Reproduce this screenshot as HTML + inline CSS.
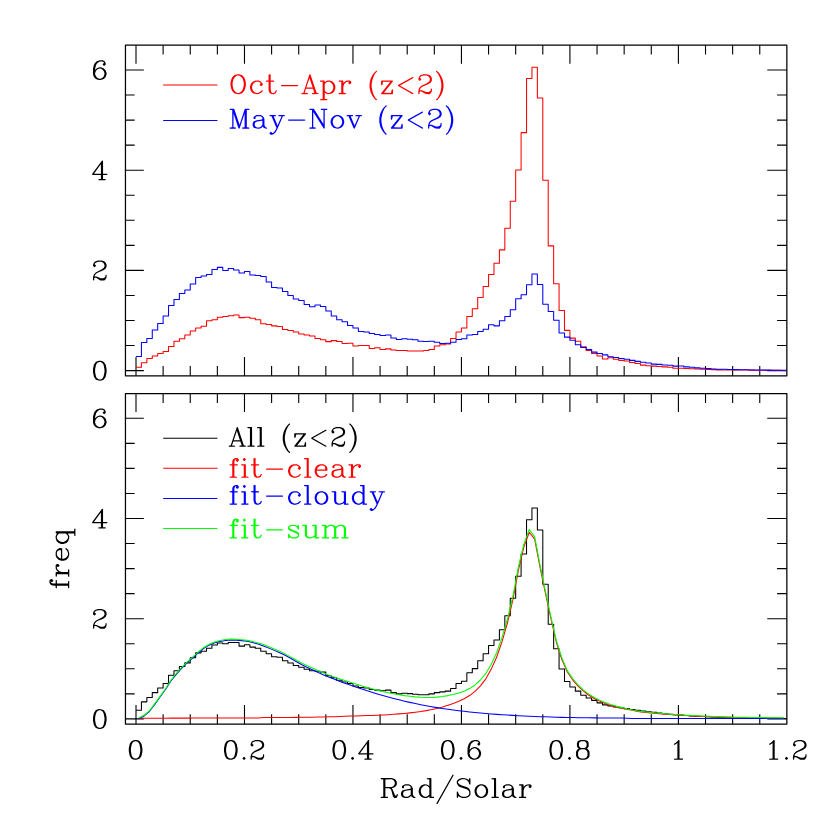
<!DOCTYPE html>
<html><head><meta charset="utf-8"><title>plot</title>
<style>
html,body{margin:0;padding:0;background:#fff}
svg{display:block}
.k{fill:none;stroke:#000;stroke-width:1.25;stroke-linejoin:round}
.t{fill:none;stroke:#000;stroke-width:1.1}
.d{fill:none;stroke-width:1.05;stroke-linejoin:round}
</style></head><body>
<svg width="830" height="830" viewBox="0 0 830 830">
<rect width="830" height="830" fill="#fff"/>
<path d="M136 375.8v-18.9M136 45.2v18.6M163.12 375.8v-9.7M163.12 45.2v9.4M190.24 375.8v-9.7M190.24 45.2v9.4M217.36 375.8v-9.7M217.36 45.2v9.4M244.48 375.8v-18.9M244.48 45.2v18.6M271.6 375.8v-9.7M271.6 45.2v9.4M298.72 375.8v-9.7M298.72 45.2v9.4M325.84 375.8v-9.7M325.84 45.2v9.4M352.96 375.8v-18.9M352.96 45.2v18.6M380.08 375.8v-9.7M380.08 45.2v9.4M407.2 375.8v-9.7M407.2 45.2v9.4M434.32 375.8v-9.7M434.32 45.2v9.4M461.44 375.8v-18.9M461.44 45.2v18.6M488.56 375.8v-9.7M488.56 45.2v9.4M515.68 375.8v-9.7M515.68 45.2v9.4M542.8 375.8v-9.7M542.8 45.2v9.4M569.92 375.8v-18.9M569.92 45.2v18.6M597.04 375.8v-9.7M597.04 45.2v9.4M624.16 375.8v-9.7M624.16 45.2v9.4M651.28 375.8v-9.7M651.28 45.2v9.4M678.4 375.8v-18.9M678.4 45.2v18.6M705.52 375.8v-9.7M705.52 45.2v9.4M732.64 375.8v-9.7M732.64 45.2v9.4M759.76 375.8v-9.7M759.76 45.2v9.4M125.45 370.6h18.4M786.85 370.6h-19.6M125.45 345.55h9.2M786.85 345.55h-9.8M125.45 320.5h9.2M786.85 320.5h-9.8M125.45 295.45h9.2M786.85 295.45h-9.8M125.45 270.4h18.4M786.85 270.4h-19.6M125.45 245.35h9.2M786.85 245.35h-9.8M125.45 220.3h9.2M786.85 220.3h-9.8M125.45 195.25h9.2M786.85 195.25h-9.8M125.45 170.2h18.4M786.85 170.2h-19.6M125.45 145.15h9.2M786.85 145.15h-9.8M125.45 120.1h9.2M786.85 120.1h-9.8M125.45 95.05h9.2M786.85 95.05h-9.8M125.45 70h18.4M786.85 70h-19.6" class="t"/>
<rect x="125.45" y="45.2" width="661.4" height="330.6" class="k"/>
<path d="M136 724v-18.9M136 393.5v18.6M163.12 724v-9.7M163.12 393.5v9.4M190.24 724v-9.7M190.24 393.5v9.4M217.36 724v-9.7M217.36 393.5v9.4M244.48 724v-18.9M244.48 393.5v18.6M271.6 724v-9.7M271.6 393.5v9.4M298.72 724v-9.7M298.72 393.5v9.4M325.84 724v-9.7M325.84 393.5v9.4M352.96 724v-18.9M352.96 393.5v18.6M380.08 724v-9.7M380.08 393.5v9.4M407.2 724v-9.7M407.2 393.5v9.4M434.32 724v-9.7M434.32 393.5v9.4M461.44 724v-18.9M461.44 393.5v18.6M488.56 724v-9.7M488.56 393.5v9.4M515.68 724v-9.7M515.68 393.5v9.4M542.8 724v-9.7M542.8 393.5v9.4M569.92 724v-18.9M569.92 393.5v18.6M597.04 724v-9.7M597.04 393.5v9.4M624.16 724v-9.7M624.16 393.5v9.4M651.28 724v-9.7M651.28 393.5v9.4M678.4 724v-18.9M678.4 393.5v18.6M705.52 724v-9.7M705.52 393.5v9.4M732.64 724v-9.7M732.64 393.5v9.4M759.76 724v-9.7M759.76 393.5v9.4M125.45 718.9h18.4M786.85 718.9h-19.6M125.45 693.85h9.2M786.85 693.85h-9.8M125.45 668.8h9.2M786.85 668.8h-9.8M125.45 643.75h9.2M786.85 643.75h-9.8M125.45 618.7h18.4M786.85 618.7h-19.6M125.45 593.65h9.2M786.85 593.65h-9.8M125.45 568.6h9.2M786.85 568.6h-9.8M125.45 543.55h9.2M786.85 543.55h-9.8M125.45 518.5h18.4M786.85 518.5h-19.6M125.45 493.45h9.2M786.85 493.45h-9.8M125.45 468.4h9.2M786.85 468.4h-9.8M125.45 443.35h9.2M786.85 443.35h-9.8M125.45 418.3h18.4M786.85 418.3h-19.6" class="t"/>
<rect x="125.45" y="393.5" width="661.4" height="330.5" class="k"/>
<path d="M136 367.29H141.42V362.78H146.85V358.58H152.27V356.07H157.7V353.57H163.12V351.56H168.54V346.55H173.97V341.24H179.39V338.79H184.82V335.03H190.24V331.02H195.66V328.02H201.09V326.26H206.51V320.7H211.94V319.7H217.36V317.19H222.78V316.49H228.21V315.79H233.63V314.99H239.06V317.64H244.48V317.19H249.9V318.25H255.33V319.7H260.75V323.81H266.18V324.51H271.6V325.86H277.02V326.51H282.45V329.52H287.87V330.52H293.3V332.02H298.72V334.03H304.14V335.03H309.57V336.03H314.99V338.54H320.42V339.79H325.84V341.64H331.26V340.64H336.69V341.54H342.11V343.55H347.54V343.3H352.96V346.05H358.38V345.55H363.81V345.55H369.23V348.56H374.66V347.8H380.08V349.56H385.5V348.86H390.93V350.06H396.35V350.56H401.78V350.56H407.2V351.06H412.62V351.06H418.05V350.91H423.47V350.56H428.9V349.56H434.32V346.05H439.74V344.75H445.17V344.05H450.59V338.54H456.02V332.02H461.44V328.02H466.86V316.59H472.29V308.78H477.71V297.45H483.14V286.43H488.56V274.51H493.98V263.24H499.41V249.86H504.83V228.32H510.26V201.26H515.68V169.95H521.1V132.63H526.53V78.52H531.95V67.24H537.38V98.06H542.8V180.22H548.22V245.85H553.65V283.73H559.07V310.48H564.5V330.37H569.92V338.14H575.34V341.24H580.77V346.8H586.19V350.56H591.62V353.57H597.04V356.07H602.46V358.93H607.89V357.77H613.31V359.33H618.74V360.38H624.16V361.08H629.58V362.53H635.01V363.54H640.43V365.14H645.86V365.72H651.28V366.14H656.7V366.44H662.13V366.89H667.55V367.29H672.98V368.17H678.4V368.32H683.82V368.45H689.25V368.75H694.67V369.05H700.1V369.2H705.52V369.4H710.94V369.6H716.37V369.85H721.79V369.9H727.22V369.95H732.64V370H738.06V370.05H743.49V370.09H748.91V370.13H754.34V370.17H759.76V370.2H765.18V370.26H770.61V370.32H776.03V370.36H781.46V370.4H786.88" class="d" stroke="#f00"/>
<path d="M136 356.57H141.42V342.54H146.85V338.54H152.27V330.02H157.7V323.51H163.12V315.99H168.54V305.47H173.97V299.46H179.39V293.45H184.82V289.94H190.24V283.93H195.66V277.41H201.09V275.91H206.51V274.41H211.94V269.4H217.36V267.39H222.78V270.4H228.21V268.4H233.63V269.9H239.06V272.91H244.48V271.4H249.9V274.91H255.33V275.41H260.75V276.41H266.18V281.92H271.6V287.43H277.02V287.94H282.45V291.44H287.87V295.45H293.3V298.96H298.72V300.46H304.14V304.47H309.57V306.72H314.99V304.97H320.42V306.47H325.84V310.98H331.26V315.99H336.69V319.7H342.11V321.75H347.54V325.51H352.96V328.02H358.38V331.52H363.81V332.02H369.23V333.53H374.66V334.53H380.08V335.53H385.5V335.03H390.93V338.04H396.35V339.54H401.78V338.79H407.2V339.19H412.62V339.79H418.05V341.24H423.47V341.54H428.9V341.24H434.32V342.24H439.74V343.55H445.17V343.3H450.59V342.24H456.02V339.54H461.44V338.79H466.86V335.03H472.29V334.53H477.71V331.52H483.14V329.32H488.56V324.81H493.98V325.86H499.41V320.7H504.83V316.59H510.26V309.83H515.68V298.76H521.1V294.65H526.53V284.78H531.95V273.91H537.38V284.43H542.8V304.27H548.22V311.48H553.65V320.3H559.07V333.03H564.5V337.13H569.92V340.19H575.34V344.75H580.77V347.4H586.19V349.46H591.62V352.11H597.04V353.42H602.46V354.87H607.89V356.77H613.31V357.47H618.74V358.48H624.16V359.33H629.58V360.38H635.01V361.38H640.43V362.23H645.86V362.98H651.28V364.14H656.7V364.39H662.13V364.99H667.55V365.29H672.98V366.14H678.4V365.94H683.82V366.89H689.25V367.29H694.67V367.89H700.1V368.2H705.52V368.6H710.94V368.9H716.37V369.15H721.79V369.32H727.22V369.47H732.64V369.6H738.06V369.71H743.49V369.81H748.91V369.9H754.34V369.98H759.76V370.05H765.18V370.13H770.61V370.19H776.03V370.25H781.46V370.3H786.88" class="d" stroke="#00f"/>
<path d="M136 710.18H141.42V701.87H146.85V697.51H152.27V692.6H157.7V688.09H163.12V683.58H168.54V675.31H173.97V670.65H179.39V666.55H184.82V662.89H190.24V657.78H195.66V652.87H201.09V651.26H206.51V648.26H211.94V645.05H217.36V643H222.78V643.75H228.21V642.4H233.63V642.4H239.06V646.1H244.48V644.65H249.9V647.11H255.33V648.26H260.75V651.26H266.18V653.77H271.6V656.78H277.02V657.28H282.45V660.78H287.87V663.09H293.3V665.54H298.72V667.3H304.14V669.3H309.57V670.8H314.99V671.3H320.42V672.11H325.84V675.81H331.26V677.82H336.69V680.32H342.11V681.93H347.54V683.58H352.96V686.03H358.38V687.44H363.81V688.09H369.23V689.49H374.66V690.14H380.08V690.74H385.5V690.14H390.93V692.6H396.35V693.85H401.78V693.2H407.2V693.6H412.62V694.2H418.05V694.65H423.47V694.65H428.9V693.85H434.32V692.6H439.74V691.85H445.17V691.14H450.59V688.49H456.02V683.58H461.44V681.32H466.86V672.71H472.29V668.6H477.71V660.78H483.14V653.77H488.56V645.45H493.98V639.94H499.41V629.72H504.83V615.69H510.26V598.16H515.68V576.32H521.1V554.07H526.53V519.65H531.95V508.08H537.38V530.02H542.8V584.28H548.22V624.21H553.65V648.76H559.07V669.05H564.5V681.53H569.92V687.04H575.34V691.14H580.77V695.25H586.19V697.91H591.62V700.36H597.04V702.87H602.46V704.87H607.89V705.87H613.31V706.88H618.74V707.79H624.16V708.63H629.58V709.52H635.01V710.34H640.43V711.09H645.86V711.77H651.28V712.39H656.7V713.07H662.13V713.67H667.55V714.22H672.98V714.71H678.4V715.14H683.82V715.55H689.25V715.92H694.67V716.25H700.1V716.54H705.52V716.8H710.94V717.02H716.37V717.22H721.79V717.4H727.22V717.56H732.64V717.7H738.06V717.82H743.49V717.93H748.91V718.03H754.34V718.12H759.76V718.2H765.18V718.27H770.61V718.34H776.03V718.4H781.46V718.45H786.88" class="d" stroke="#000"/>
<path d="M138.71 718.2L144.14 718.19L149.56 718.18L154.98 718.17L160.41 718.16L165.83 718.15L171.26 718.14L176.68 718.13L182.1 718.12L187.53 718.1L192.95 718.09L198.38 718.08L203.8 718.07L209.22 718.05L214.65 718.04L220.07 718.02L225.5 718.01L230.92 717.99L236.34 717.97L241.77 717.96L247.19 717.94L252.62 717.93L258.04 717.9L263.46 717.6L268.89 717.56L274.31 717.54L279.74 717.52L285.16 717.5L290.58 717.45L296.01 717.38L301.43 717.31L306.86 717.24L312.28 717.15L317.7 717.06L323.13 716.95L328.55 716.83L333.98 716.67L339.4 716.49L344.82 716.29L350.25 716.09L355.67 715.91L361.1 715.74L366.52 715.58L371.94 715.41L377.37 715.21L382.79 714.96L388.22 714.66L393.64 714.3L399.06 713.88L404.49 713.4L409.91 712.86L415.34 712.22L420.76 711.48L426.18 710.61L431.61 709.59L437.03 708.41L442.46 706.95L447.88 705.27L453.3 703.41L458.73 701.26L464.15 698.76L469.58 695.55L475 691.35L480.42 685.88L485.85 678.82L491.27 669.1L496.7 657.03L502.12 641.35L507.54 622.51L512.97 599.41L518.39 570.1L523.82 547.06L529.24 532.23L534.66 539.14L540.09 567.6L545.51 593.65L550.94 618.7L556.36 642.25L561.78 659.28L567.21 671.81L572.63 679.82L578.06 686.18L583.48 691.19L588.9 695.25L594.33 698.46L599.75 701.11L605.18 703.47L610.6 705.42L616.02 707.03L621.45 708.23L626.87 709.33L632.3 710.33L637.72 711.44L643.14 712.19L648.57 712.7L653.99 713.18L659.42 713.66L664.84 714.11L670.26 714.53L675.69 714.91L681.11 715.27L686.54 715.6L691.96 715.9L697.38 716.18L702.81 716.43L708.23 716.66L713.66 716.87L719.08 717.06L724.5 717.24L729.93 717.38L735.35 717.51L740.78 717.61L746.2 717.7L751.62 717.78L757.05 717.86L762.47 717.93L767.9 718L773.32 718.06L778.74 718.12L784.17 718.17" class="d" stroke="#f00"/>
<path d="M138.71 718.75L144.14 715.94L149.56 711.28L154.98 704.12L160.41 696.56L165.83 688.94L171.26 680.52L176.68 673.81L182.1 667.8L187.53 662.39L192.95 657.78L198.38 652.72L203.8 648.26L209.22 645.15L214.65 642.77L220.07 641.41L225.5 640.41L230.92 639.95L236.34 640.13L241.77 640.64L247.19 641.34L252.62 642.55L258.04 644.05L263.46 645.91L268.89 648.13L274.31 650.38L279.74 652.71L285.16 655.27L290.58 658.32L296.01 661.57L301.43 664.52L306.86 667.25L312.28 669.84L317.7 672.3L323.13 674.66L328.55 676.94L333.98 679.1L339.4 681.16L344.82 683.15L350.25 685.09L355.67 686.97L361.1 688.8L366.52 690.57L371.94 692.27L377.37 693.91L382.79 695.48L388.22 696.99L393.64 698.44L399.06 699.83L404.49 701.14L409.91 702.38L415.34 703.56L420.76 704.68L426.18 705.74L431.61 706.71L437.03 707.62L442.46 708.46L447.88 709.24L453.3 709.97L458.73 710.66L464.15 711.3L469.58 711.92L475 712.49L480.42 713.03L485.85 713.51L491.27 713.96L496.7 714.36L502.12 714.73L507.54 715.08L512.97 715.39L518.39 715.69L523.82 715.96L529.24 716.2L534.66 716.43L540.09 716.65L545.51 716.84L550.94 717.04L556.36 717.21L561.78 717.37L567.21 717.49L572.63 717.6L578.06 717.68L583.48 717.76L588.9 717.82L594.33 717.87L599.75 717.92L605.18 717.94L610.6 717.96L616.02 718L621.45 718.05L626.87 718.3L632.3 718.5L637.72 718.51L643.14 718.52L648.57 718.53L653.99 718.54L659.42 718.54L664.84 718.55L670.26 718.55L675.69 718.55L681.11 718.55L686.54 718.55L691.96 718.55L697.38 718.55L702.81 718.55L708.23 718.55L713.66 718.55L719.08 718.55L724.5 718.55L729.93 718.55L735.35 718.55L740.78 718.55L746.2 718.55L751.62 718.55L757.05 718.55L762.47 718.55L767.9 718.55L773.32 718.55L778.74 718.55L784.17 718.55" class="d" stroke="#00f"/>
<path d="M138.71 718.05L144.14 715.23L149.56 710.57L154.98 703.39L160.41 695.82L165.83 688.19L171.26 679.76L176.68 673.04L182.1 667.01L187.53 661.59L192.95 656.97L198.38 651.9L203.8 647.42L209.22 644.31L214.65 641.91L220.07 640.53L225.5 639.52L230.92 639.04L236.34 639.2L241.77 639.69L247.19 640.38L252.62 641.57L258.04 643.05L263.46 644.61L268.89 646.79L274.31 649.02L279.74 651.33L285.16 653.87L290.58 656.86L296.01 660.05L301.43 662.93L306.86 665.59L312.28 668.09L317.7 670.46L323.13 672.72L328.55 674.87L333.98 676.87L339.4 678.75L344.82 680.54L350.25 682.27L355.67 683.98L361.1 685.64L366.52 687.25L371.94 688.78L377.37 690.22L382.79 691.54L388.22 692.75L393.64 693.84L399.06 694.81L404.49 695.64L409.91 696.34L415.34 696.88L420.76 697.26L426.18 697.44L431.61 697.41L437.03 697.13L442.46 696.51L447.88 695.61L453.3 694.47L458.73 693.02L464.15 691.16L469.58 688.57L475 684.94L480.42 680.01L485.85 673.43L491.27 664.16L496.7 652.49L502.12 637.18L507.54 618.68L512.97 595.91L518.39 566.89L523.82 544.11L529.24 529.53L534.66 536.68L540.09 565.34L545.51 591.59L550.94 616.84L556.36 640.56L561.78 657.75L567.21 670.4L572.63 678.52L578.06 684.97L583.48 690.05L588.9 694.17L594.33 697.43L599.75 700.13L605.18 702.51L610.6 704.49L616.02 706.12L621.45 707.38L626.87 708.73L632.3 709.93L637.72 711.05L643.14 711.81L648.57 712.33L653.99 712.82L659.42 713.3L664.84 713.75L670.26 714.17L675.69 714.56L681.11 714.92L686.54 715.24L691.96 715.55L697.38 715.83L702.81 716.08L708.23 716.31L713.66 716.52L719.08 716.71L724.5 716.89L729.93 717.03L735.35 717.15L740.78 717.26L746.2 717.35L751.62 717.43L757.05 717.51L762.47 717.58L767.9 717.65L773.32 717.71L778.74 717.77L784.17 717.82" class="d" stroke="#0f0"/>
<path d="M163.2 85H217.4" class="d" stroke="#f00"/>
<path d="M163.2 120.4H217.4" class="d" stroke="#00f"/>
<path d="M163.2 438.3H217.4" class="d" stroke="#000"/>
<path d="M163.2 468.3H217.4" class="d" stroke="#f00"/>
<path d="M163.2 498.45H217.4" class="d" stroke="#00f"/>
<path d="M163.2 528.55H217.4" class="d" stroke="#0f0"/>
<path transform="translate(228.4 93.5)" fill="#f00" d="M52.59 -7.97L52.72 -7.59L53.22 -7.34L69.16 -7.34L69.53 -7.47L69.78 -7.97L69.66 -8.34L69.16 -8.59L53.22 -8.59L52.84 -8.47ZM152.91 -12.84L152.66 -12.34L152.66 -8.84L152.78 -8.47L153.28 -8.22L153.66 -8.34L153.97 -8.78L154.72 -11.72L161.59 -11.72L161.66 -11.59L152.78 -0.34L152.66 0.03L152.78 0.41L153.28 0.66L163.97 0.66L164.34 0.53L164.59 0.03L164.59 -3.53L164.47 -3.91L163.97 -4.16L163.59 -4.03L163.28 -3.53L162.53 -0.59L155.53 -0.66L164.47 -11.97L164.59 -12.34L164.47 -12.72L163.97 -12.97L153.28 -12.97ZM110.41 -12.84L110.16 -12.34L110.28 -11.97L110.53 -11.78L112.84 -11.66L112.84 -0.66L110.53 -0.53L110.22 -0.22L110.16 0.03L110.28 0.41L110.78 0.66L116.97 0.66L117.34 0.53L117.59 0.03L117.34 -0.47L116.97 -0.59L114.97 -0.66L114.97 -7.03L115.72 -9.34L117.34 -10.97L118.84 -11.72L120.66 -11.72L120.72 -11.66L120.03 -10.97L119.91 -10.59L119.97 -10.34L121.03 -9.22L121.41 -9.09L121.66 -9.16L122.84 -10.34L122.91 -11.47L122.72 -11.97L121.84 -12.84L121.41 -12.97L118.41 -12.91L116.59 -11.97L115.03 -10.41L114.97 -12.34L114.72 -12.84L114.34 -12.97L110.78 -12.97ZM91.91 -12.91L91.66 -12.72L91.53 -12.34L91.78 -11.84L92.16 -11.72L94.22 -11.66L94.22 5.53L91.91 5.66L91.59 5.97L91.59 6.47L91.78 6.72L92.16 6.84L98.66 6.78L98.91 6.59L99.03 6.22L98.78 5.72L98.41 5.59L96.34 5.53L96.34 -0.97L96.41 -1.03L97.09 -0.34L99.28 0.66L101.34 0.59L104.09 -0.34L105.91 -2.16L106.97 -5.09L106.97 -7.28L105.97 -10.09L104.09 -11.97L101.28 -12.97L98.91 -12.91L97.28 -12.09L96.41 -11.28L96.28 -12.59L95.97 -12.91ZM99.34 -11.72L101.03 -11.72L102.34 -11.03L104.09 -9.28L104.84 -6.97L104.84 -5.34L104.03 -2.97L102.34 -1.28L100.97 -0.59L99.41 -0.59L97.91 -1.34L96.34 -2.91L96.34 -9.47L97.84 -10.97ZM27.28 -12.97L24.66 -12.09L22.59 -10.09L21.59 -7.34L21.53 -5.28L22.47 -2.41L24.47 -0.34L27.16 0.59L29.28 0.66L32.41 -0.41L34.16 -2.16L34.34 -2.66L34.28 -2.91L33.97 -3.22L33.47 -3.22L31.59 -1.41L29.28 -0.59L27.66 -0.59L26.16 -1.34L24.47 -3.03L23.72 -5.22L23.72 -7.09L24.47 -9.34L26.09 -10.97L27.59 -11.72L30.16 -11.72L31.47 -11.03L32.34 -10.16L31.41 -9.22L31.28 -8.84L31.41 -8.47L32.34 -7.53L32.84 -7.34L33.22 -7.47L34.22 -8.47L34.34 -8.84L34.34 -9.72L34.22 -10.09L32.22 -12.03L30.47 -12.91ZM184.84 -16.28L184.34 -16.53L183.66 -16.28L170.09 -8.66L169.59 -8.22L169.53 -7.97L169.66 -7.59L170.22 -7.16L183.66 0.41L184.34 0.66L184.72 0.53L184.97 0.03L184.66 -0.53L171.78 -7.72L171.53 -7.97L184.66 -15.34L184.97 -15.91ZM191.91 -18.22L190.84 -17.09L189.91 -15.03L189.97 -13.91L191.03 -12.78L191.41 -12.66L191.78 -12.78L192.78 -13.78L192.91 -14.16L192.78 -14.53L191.53 -15.66L191.84 -16.34L192.66 -17.16L195.03 -17.97L198.34 -17.97L199.84 -17.22L200.72 -16.34L201.41 -14.97L201.41 -13.34L200.72 -11.97L198.34 -10.34L192.97 -7.66L190.91 -5.66L189.91 -2.84L189.91 0.03L190.03 0.41L190.53 0.66L191.03 0.41L191.16 0.03L191.16 -1.47L191.72 -2.03L192.97 -2.03L197.28 0.59L201.16 0.66L201.53 0.53L202.53 -0.47L203.47 -2.28L203.53 -4.41L203.41 -4.78L203.16 -4.97L202.66 -4.97L202.34 -4.66L202.28 -2.91L201.59 -2.22L200.09 -1.47L197.72 -1.47L193.41 -3.22L191.41 -3.34L191.97 -4.97L193.53 -6.53L195.53 -7.53L199.78 -9.22L202.53 -11.09L203.47 -12.91L203.53 -13.28L203.47 -15.41L202.66 -17.03L201.53 -18.22L198.47 -19.22L194.97 -19.22ZM81.28 -19.16L80.91 -18.72L74.97 -0.78L74.84 -0.59L73.59 -0.59L73.22 -0.47L73.03 -0.22L73.03 0.28L73.22 0.53L73.59 0.66L78.91 0.66L79.41 0.41L79.53 0.03L79.47 -0.22L79.16 -0.53L76.22 -0.66L77.59 -4.66L84.59 -4.66L85.97 -0.66L83.97 -0.53L83.66 -0.22L83.59 0.03L83.72 0.41L84.22 0.66L89.78 0.59L90.03 0.41L90.16 0.03L89.91 -0.47L89.53 -0.59L88.16 -0.66L82.16 -18.78L81.78 -19.16ZM81.09 -15.22L84.22 -5.97L84.16 -5.91L77.97 -5.97ZM40.78 -19.22L40.41 -19.09L40.16 -18.59L40.16 -13.03L37.91 -12.91L37.66 -12.72L37.53 -12.34L37.66 -11.97L37.91 -11.78L40.16 -11.66L40.16 -3.53L41.16 -0.47L43.16 0.59L45.22 0.66L47.28 -0.28L47.59 -0.66L48.53 -2.66L48.28 -3.16L47.91 -3.28L47.53 -3.16L46.53 -1.34L45.16 -0.59L43.72 -0.59L43.03 -1.34L42.28 -3.59L42.28 -11.66L45.22 -11.72L45.59 -11.84L45.84 -12.34L45.72 -12.72L45.22 -12.97L42.28 -13.03L42.28 -18.59L42.16 -18.97L41.91 -19.16L41.66 -19.22L41.22 -19.03ZM8.91 -19.22L5.84 -18.22L3.84 -16.16L3.03 -14.53L2.09 -10.91L2.09 -7.66L2.91 -4.41L3.84 -2.41L5.84 -0.34L8.53 0.59L10.66 0.66L13.72 -0.34L15.72 -2.41L16.53 -4.03L17.47 -7.66L17.47 -10.91L16.53 -14.47L15.66 -16.22L13.72 -18.22L10.97 -19.16ZM9.03 -17.97L10.53 -17.97L11.91 -17.28L13.78 -15.41L14.53 -13.91L15.34 -10.66L15.34 -7.91L14.47 -4.47L13.72 -3.03L11.97 -1.28L10.59 -0.59L9.03 -0.59L7.53 -1.34L5.78 -3.09L5.03 -4.59L4.22 -7.84L4.22 -10.66L5.03 -13.91L5.84 -15.53L7.53 -17.22ZM208.22 -22.72L207.72 -22.47L207.59 -22.09L207.66 -21.84L209.59 -19.84L211.22 -16.59L212.09 -13.97L212.91 -9.91L212.91 -5.97L212.09 -1.97L211.22 0.72L209.47 4.16L207.66 5.97L207.59 6.22L207.72 6.59L208.22 6.84L208.72 6.66L210.53 4.84L212.41 2.03L214.22 -1.72L215.09 -6.16L215.09 -9.72L214.09 -14.53L212.41 -17.91L210.59 -20.66L208.59 -22.59ZM147.97 -22.72L147.59 -22.59L145.59 -20.59L143.97 -18.16L142.09 -14.41L141.16 -9.84L141.16 -6.03L142.09 -1.47L143.91 2.16L145.66 4.78L147.59 6.72L147.97 6.84L148.47 6.59L148.59 6.22L148.53 5.97L146.72 4.09L145.03 0.72L144.16 -1.91L143.28 -6.22L143.28 -9.66L144.16 -13.97L145.03 -16.59L146.66 -19.91L148.53 -21.84L148.59 -22.09L148.47 -22.47Z"/>
<path transform="translate(228.4 128)" fill="#00f" d="M59.66 -7.97L59.78 -7.59L60.28 -7.34L76.22 -7.34L76.59 -7.47L76.84 -7.97L76.72 -8.34L76.22 -8.59L60.28 -8.59L59.91 -8.47ZM162.66 -12.84L162.41 -12.34L162.41 -8.84L162.53 -8.47L163.03 -8.22L163.41 -8.34L163.72 -8.78L164.47 -11.72L171.34 -11.72L171.41 -11.59L162.66 -0.53L162.41 0.03L162.53 0.41L163.03 0.66L173.66 0.66L174.03 0.53L174.28 0.03L174.28 -3.53L174.16 -3.91L173.66 -4.16L173.28 -4.03L173.09 -3.78L172.28 -0.59L165.28 -0.66L174.16 -11.91L174.28 -12.34L174.16 -12.72L173.66 -12.97L163.03 -12.97ZM118.41 -12.84L118.16 -12.34L118.41 -11.84L118.78 -11.72L120.09 -11.72L120.22 -11.59L125.22 0.22L125.59 0.59L125.84 0.66L126.22 0.53L126.47 0.22L131.47 -11.59L131.59 -11.72L132.91 -11.72L133.28 -11.84L133.53 -12.34L133.41 -12.72L132.91 -12.97L127.59 -12.97L127.09 -12.72L126.97 -12.34L127.03 -12.09L127.34 -11.78L130.09 -11.72L130.16 -11.53L126.22 -2.47L122.41 -11.53L122.47 -11.72L124.09 -11.72L124.47 -11.84L124.72 -12.34L124.59 -12.72L124.09 -12.97L118.78 -12.97ZM107.91 -12.97L105.28 -12.09L103.22 -10.09L102.22 -7.34L102.16 -5.28L103.09 -2.41L105.09 -0.34L107.78 0.59L109.91 0.66L113.03 -0.41L114.78 -2.16L115.78 -4.97L115.84 -7.03L114.84 -10.09L112.78 -12.09L110.16 -12.97ZM108.22 -11.72L109.84 -11.72L111.22 -11.03L112.91 -9.34L113.72 -6.97L113.72 -5.34L112.91 -3.03L111.16 -1.28L109.78 -0.59L108.28 -0.59L106.78 -1.34L105.09 -3.03L104.34 -5.22L104.34 -7.09L105.09 -9.34L106.72 -10.97ZM56.22 -12.84L55.84 -12.97L50.53 -12.97L50.03 -12.72L49.91 -12.34L49.97 -12.09L50.28 -11.78L53.03 -11.72L53.09 -11.59L49.16 -2.53L45.28 -11.66L47.22 -11.78L47.53 -12.09L47.59 -12.34L47.47 -12.72L46.97 -12.97L41.66 -12.97L41.16 -12.72L41.03 -12.34L41.28 -11.84L41.66 -11.72L43.09 -11.66L48.09 0.03L46.47 3.22L44.84 4.84L44.09 5.22L43.03 4.03L42.53 3.84L42.16 3.97L41.16 4.97L41.03 5.34L41.16 5.72L42.16 6.72L42.53 6.84L43.78 6.78L45.41 5.97L47.47 3.97L49.47 0.03L54.41 -11.59L54.53 -11.72L55.84 -11.72L56.22 -11.84L56.47 -12.34ZM25.22 -10.97L25.09 -10.59L25.16 -9.47L25.34 -9.22L25.72 -9.09L26.59 -9.09L26.97 -9.22L27.22 -9.72L27.22 -10.59L27.09 -10.97L28.47 -11.72L31.91 -11.72L33.34 -10.97L33.97 -10.34L33.97 -9.09L33.41 -8.53L28.41 -7.72L25.53 -6.78L25.16 -6.47L24.28 -4.72L24.22 -2.66L24.28 -2.28L25.34 -0.34L28.03 0.59L31.03 0.66L33.22 -0.34L34.41 -1.53L35.09 -0.34L36.97 0.59L38.16 0.66L38.66 0.41L38.78 0.03L38.66 -0.34L38.16 -0.59L37.47 -0.59L36.91 -1.16L36.09 -2.78L36.03 -9.16L35.16 -10.91L34.09 -11.97L32.28 -12.91L28.41 -12.97L28.03 -12.91L26.41 -12.09ZM33.97 -7.34L33.97 -2.91L32.34 -1.28L30.97 -0.59L28.53 -0.59L27.03 -1.41L26.34 -2.78L26.34 -4.22L27.09 -5.72L28.84 -6.53L33.66 -7.28L33.84 -7.41ZM194.59 -16.28L194.09 -16.53L193.41 -16.28L179.84 -8.66L179.34 -8.22L179.28 -7.97L179.41 -7.59L179.97 -7.16L193.41 0.41L194.09 0.66L194.47 0.53L194.72 0.03L194.59 -0.34L194.28 -0.59L181.53 -7.72L181.28 -7.97L194.28 -15.28L194.66 -15.66L194.72 -15.91ZM201.66 -18.22L200.59 -17.09L199.66 -15.03L199.72 -13.91L200.78 -12.78L201.16 -12.66L201.53 -12.78L202.53 -13.78L202.66 -14.16L202.53 -14.53L201.28 -15.66L201.59 -16.34L202.41 -17.16L204.78 -17.97L208.09 -17.97L209.59 -17.22L210.41 -16.41L211.16 -14.91L211.16 -13.34L210.47 -12.03L209.97 -11.59L208.09 -10.34L202.72 -7.66L200.66 -5.66L199.66 -2.84L199.66 0.03L199.78 0.41L200.28 0.66L200.78 0.41L200.91 0.03L200.91 -1.47L201.47 -2.03L202.72 -2.03L207.03 0.59L210.91 0.66L211.28 0.53L212.28 -0.47L213.22 -2.28L213.28 -4.41L213.16 -4.78L212.91 -4.97L212.41 -4.97L212.09 -4.66L212.03 -2.91L211.34 -2.22L209.84 -1.47L207.47 -1.47L203.16 -3.22L201.16 -3.34L201.66 -4.91L203.28 -6.53L205.28 -7.53L209.53 -9.22L212.28 -11.09L213.22 -12.91L213.28 -13.28L213.22 -15.41L212.41 -17.03L211.28 -18.22L208.22 -19.22L204.72 -19.22ZM81.16 -19.09L80.91 -18.59L81.03 -18.22L81.28 -18.03L83.59 -17.91L83.59 -0.66L81.28 -0.53L80.97 -0.22L80.91 0.03L81.03 0.41L81.53 0.66L86.84 0.66L87.22 0.53L87.47 0.03L87.34 -0.34L87.09 -0.53L84.84 -0.66L84.91 -15.91L95.16 0.34L95.72 0.66L96.09 0.53L96.34 0.03L96.34 -17.91L98.66 -18.03L98.97 -18.34L99.03 -18.59L98.91 -18.97L98.41 -19.22L93.03 -19.22L92.66 -19.09L92.47 -18.84L92.47 -18.34L92.78 -18.03L95.09 -17.91L95.03 -4.03L85.59 -18.97L85.09 -19.22L81.53 -19.22ZM84.84 -17.59L84.91 -17.66L85.09 -17.41L84.91 -17.34ZM1.41 -19.09L1.16 -18.59L1.28 -18.22L1.53 -18.03L3.84 -17.91L3.84 -0.66L1.53 -0.53L1.22 -0.22L1.16 0.03L1.28 0.41L1.78 0.66L7.09 0.66L7.47 0.53L7.66 0.28L7.66 -0.22L7.34 -0.53L5.09 -0.66L5.16 -14.47L10.03 0.16L10.28 0.53L10.66 0.66L11.03 0.53L11.28 0.22L16.16 -14.41L16.22 -0.66L13.97 -0.53L13.66 -0.22L13.66 0.28L13.84 0.53L14.22 0.66L20.41 0.66L20.78 0.53L21.03 0.03L20.78 -0.47L20.41 -0.59L18.41 -0.66L18.41 -17.91L20.66 -18.03L20.97 -18.34L21.03 -18.59L20.91 -18.97L20.41 -19.22L16.84 -19.22L16.34 -18.97L11.22 -3.53L11.09 -3.41L5.97 -18.78L5.72 -19.09L5.34 -19.22L1.78 -19.22ZM217.97 -22.72L217.47 -22.47L217.34 -22.09L217.41 -21.84L219.34 -19.84L220.97 -16.59L221.84 -13.97L222.66 -9.91L222.66 -5.97L221.84 -1.97L220.97 0.72L219.22 4.16L217.41 5.97L217.34 6.22L217.47 6.59L217.97 6.84L218.47 6.66L220.28 4.84L222.03 2.22L223.97 -1.72L224.84 -6.16L224.84 -9.72L223.84 -14.47L221.97 -18.22L220.34 -20.66L218.34 -22.59ZM157.72 -22.72L157.34 -22.59L155.34 -20.59L153.72 -18.16L151.78 -14.28L150.91 -9.91L150.91 -5.97L151.78 -1.59L153.66 2.16L155.41 4.78L157.34 6.72L157.72 6.84L158.22 6.59L158.34 6.22L158.28 5.97L156.47 4.09L154.78 0.72L153.84 -2.09L153.03 -6.16L153.03 -9.72L153.91 -14.03L154.72 -16.47L156.41 -19.91L158.28 -21.84L158.34 -22.09L158.22 -22.47Z"/>
<path transform="translate(228.4 446.2)" fill="#000" d="M66.09 -12.84L65.84 -12.34L65.84 -8.84L65.97 -8.47L66.47 -8.22L66.84 -8.34L67.09 -8.66L67.91 -11.72L74.84 -11.66L66.03 -0.47L65.84 0.03L65.97 0.41L66.47 0.66L77.09 0.66L77.47 0.53L77.72 0.03L77.72 -3.53L77.59 -3.91L77.09 -4.16L76.72 -4.03L76.53 -3.78L75.72 -0.59L68.72 -0.66L77.53 -11.84L77.72 -12.34L77.59 -12.72L77.09 -12.97L66.47 -12.97ZM97.47 -16.53L97.16 -16.47L83.28 -8.66L82.84 -8.34L82.72 -7.97L82.84 -7.59L83.41 -7.16L97.16 0.59L97.47 0.66L97.84 0.53L98.03 0.28L98.03 -0.22L97.78 -0.53L84.66 -7.91L84.78 -8.09L97.78 -15.34L98.03 -15.66L98.03 -16.16L97.84 -16.41ZM105.09 -18.22L103.97 -17.03L103.16 -15.41L103.09 -15.03L103.16 -13.91L104.22 -12.78L104.59 -12.66L104.97 -12.78L105.97 -13.78L106.09 -14.16L105.97 -14.53L104.72 -15.66L105.03 -16.34L105.84 -17.16L108.22 -17.97L111.53 -17.97L112.91 -17.28L113.91 -16.28L114.59 -14.91L114.59 -13.41L113.91 -12.03L113.66 -11.78L111.53 -10.34L106.16 -7.66L104.09 -5.66L103.09 -2.91L103.09 0.03L103.22 0.41L103.72 0.66L104.22 0.41L104.34 0.03L104.34 -1.47L104.91 -2.03L106.16 -2.03L110.47 0.59L114.34 0.66L114.72 0.53L115.72 -0.47L116.66 -2.34L116.72 -4.41L116.59 -4.78L116.34 -4.97L115.84 -4.97L115.53 -4.66L115.47 -2.91L114.78 -2.22L113.28 -1.47L110.91 -1.47L106.59 -3.22L104.66 -3.28L104.59 -3.41L105.09 -4.91L106.72 -6.53L108.72 -7.53L112.97 -9.22L115.72 -11.09L116.72 -13.28L116.66 -15.34L115.78 -17.09L114.72 -18.22L111.66 -19.22L108.09 -19.22ZM29.03 -19.16L28.78 -18.97L28.66 -18.59L28.91 -18.09L29.28 -17.97L31.28 -17.91L31.28 -0.66L29.03 -0.53L28.72 -0.22L28.72 0.28L28.91 0.53L29.28 0.66L35.72 0.59L35.97 0.41L36.09 0.03L35.84 -0.47L35.47 -0.59L33.47 -0.66L33.41 -18.84L33.22 -19.09L32.84 -19.22ZM19.28 -19.16L19.03 -18.97L18.91 -18.59L19.16 -18.09L19.53 -17.97L21.53 -17.91L21.53 -0.66L19.28 -0.53L18.97 -0.22L18.97 0.28L19.16 0.53L19.53 0.66L25.97 0.59L26.22 0.41L26.34 0.03L26.09 -0.47L25.72 -0.59L23.72 -0.66L23.66 -18.84L23.47 -19.09L23.09 -19.22ZM9.16 -19.16L8.66 -19.16L8.28 -18.78L2.28 -0.66L0.91 -0.59L0.53 -0.47L0.28 0.03L0.41 0.41L0.66 0.59L6.22 0.66L6.72 0.41L6.84 0.03L6.78 -0.22L6.47 -0.53L3.59 -0.66L4.84 -4.53L4.97 -4.66L11.97 -4.66L13.34 -0.66L11.53 -0.59L11.16 -0.47L10.91 0.03L11.16 0.53L11.53 0.66L16.84 0.66L17.22 0.53L17.41 0.28L17.47 0.03L17.22 -0.47L16.84 -0.59L15.59 -0.59L15.47 -0.78L9.53 -18.72ZM8.47 -15.16L11.53 -5.97L5.41 -5.91L5.34 -6.03L8.34 -15.03ZM121.41 -22.72L120.91 -22.47L120.78 -22.09L120.84 -21.84L122.78 -19.84L124.41 -16.53L125.28 -13.91L126.09 -9.84L126.09 -6.03L125.28 -1.97L124.41 0.66L122.72 4.03L120.84 5.97L120.78 6.22L120.91 6.59L121.41 6.84L121.91 6.66L123.66 4.91L125.53 2.09L127.28 -1.41L128.22 -5.84L128.22 -10.03L127.28 -14.47L125.47 -18.09L123.72 -20.72L121.78 -22.59ZM61.16 -22.72L60.78 -22.59L58.84 -20.72L57.09 -18.09L55.28 -14.47L54.34 -9.97L54.34 -5.97L55.22 -1.59L57.03 2.09L58.78 4.72L60.78 6.72L61.16 6.84L61.66 6.59L61.78 6.22L61.72 5.97L59.91 4.09L58.22 0.78L57.28 -2.03L56.47 -6.09L56.47 -9.78L57.28 -13.84L58.22 -16.66L59.84 -19.91L61.72 -21.84L61.78 -22.09L61.66 -22.47Z"/>
<path transform="translate(228.4 477.2)" fill="#f00" d="M37.53 -7.97L37.66 -7.59L38.16 -7.34L54.09 -7.34L54.47 -7.47L54.72 -7.97L54.59 -8.34L54.09 -8.59L38.16 -8.59L37.78 -8.47ZM120.16 -12.84L119.91 -12.34L120.16 -11.84L120.53 -11.72L122.53 -11.66L122.53 -0.66L120.28 -0.53L119.97 -0.22L119.91 0.03L120.03 0.41L120.53 0.66L126.72 0.66L127.09 0.53L127.34 0.03L127.09 -0.47L126.72 -0.59L124.72 -0.66L124.72 -7.09L125.47 -9.34L127.09 -10.97L128.59 -11.72L130.41 -11.72L130.47 -11.66L129.78 -10.97L129.66 -10.59L129.72 -10.34L130.78 -9.22L131.16 -9.09L131.41 -9.16L132.59 -10.34L132.66 -11.47L132.47 -11.97L131.59 -12.84L131.16 -12.97L128.16 -12.91L126.34 -11.97L124.78 -10.41L124.72 -12.34L124.47 -12.84L124.09 -12.97L120.53 -12.97ZM104.09 -10.97L103.97 -10.59L104.03 -9.47L104.22 -9.22L104.59 -9.09L105.47 -9.09L105.84 -9.22L106.09 -9.72L106.09 -10.59L105.97 -11.03L107.28 -11.72L110.78 -11.72L112.09 -11.03L112.84 -10.28L112.84 -9.16L112.09 -8.47L107.03 -7.66L104.41 -6.78L103.97 -6.41L103.16 -4.78L103.09 -2.66L103.16 -2.28L104.22 -0.34L107.22 0.66L109.91 0.66L111.97 -0.28L113.28 -1.53L113.72 -0.66L114.03 -0.28L115.78 0.59L116.97 0.66L117.47 0.41L117.59 0.03L117.47 -0.34L116.97 -0.59L116.34 -0.59L115.72 -1.22L114.97 -2.72L114.97 -8.84L113.97 -10.97L112.84 -12.03L110.78 -12.97L107.22 -12.97L106.84 -12.91L105.22 -12.09ZM112.84 -7.34L112.84 -2.97L111.16 -1.28L109.78 -0.59L107.34 -0.59L105.91 -1.34L105.22 -2.72L105.22 -4.28L105.84 -5.59L106.03 -5.78L107.72 -6.53L112.53 -7.28L112.72 -7.41ZM91.97 -12.97L89.34 -12.09L87.22 -10.09L86.28 -7.41L86.22 -5.28L87.28 -2.16L89.03 -0.41L91.84 0.59L93.97 0.66L97.09 -0.41L98.84 -2.16L99.03 -2.66L98.91 -3.03L98.41 -3.28L97.91 -3.09L96.16 -1.34L93.91 -0.59L92.28 -0.59L90.91 -1.28L89.16 -3.03L88.34 -5.41L88.34 -6.34L98.41 -6.41L98.78 -6.53L98.97 -6.78L99.03 -8.84L98.09 -10.84L96.91 -12.03L94.84 -12.97ZM88.66 -7.84L89.16 -9.34L90.84 -11.03L92.22 -11.72L94.78 -11.72L96.22 -10.91L96.84 -9.59L96.78 -7.66L88.72 -7.66ZM65.34 -12.97L62.72 -12.09L60.66 -10.09L59.66 -7.28L59.66 -5.09L60.72 -2.16L62.53 -0.34L65.22 0.59L67.34 0.66L70.41 -0.34L72.22 -2.16L72.41 -2.66L72.34 -2.91L72.03 -3.22L71.53 -3.22L69.59 -1.34L67.34 -0.59L65.72 -0.59L64.22 -1.34L62.59 -2.97L61.78 -5.34L61.78 -6.97L62.53 -9.28L64.28 -11.03L65.66 -11.72L68.22 -11.72L69.59 -11.03L70.47 -10.16L69.53 -9.22L69.41 -8.84L69.53 -8.47L70.53 -7.47L70.91 -7.34L71.28 -7.47L72.28 -8.47L72.41 -8.84L72.41 -9.72L72.28 -10.09L70.41 -11.97L68.59 -12.91ZM12.97 -12.84L12.72 -12.34L12.97 -11.84L13.34 -11.72L15.34 -11.66L15.34 -0.66L13.09 -0.53L12.78 -0.22L12.72 0.03L12.84 0.41L13.34 0.66L19.53 0.66L19.91 0.53L20.16 0.03L20.03 -0.34L19.78 -0.53L17.47 -0.66L17.47 -12.34L17.34 -12.72L16.84 -12.97L13.34 -12.97ZM75.97 -19.16L75.72 -18.97L75.59 -18.59L75.84 -18.09L76.22 -17.97L78.28 -17.91L78.28 -0.66L75.97 -0.53L75.66 -0.22L75.66 0.28L75.84 0.53L76.22 0.66L82.66 0.59L82.91 0.41L83.03 0.03L82.78 -0.47L82.41 -0.59L80.41 -0.66L80.34 -18.84L80.16 -19.09L79.78 -19.22ZM25.72 -19.22L25.34 -19.09L25.09 -18.59L25.09 -13.03L22.84 -12.91L22.59 -12.72L22.47 -12.34L22.59 -11.97L22.84 -11.78L25.09 -11.66L25.09 -3.53L26.09 -0.47L28.09 0.59L30.16 0.66L32.22 -0.28L32.53 -0.66L33.47 -2.66L33.22 -3.16L32.84 -3.28L32.47 -3.16L31.47 -1.34L30.09 -0.59L28.66 -0.59L27.97 -1.34L27.22 -3.59L27.22 -11.66L30.16 -11.72L30.53 -11.84L30.78 -12.34L30.66 -12.72L30.16 -12.97L27.22 -13.03L27.22 -18.59L27.09 -18.97L26.84 -19.16L26.59 -19.22L26.16 -19.03ZM15.97 -19.22L15.59 -19.09L14.59 -18.09L14.47 -17.72L14.66 -17.22L15.59 -16.28L15.97 -16.16L16.34 -16.28L17.28 -17.22L17.47 -17.72L17.34 -18.09L16.34 -19.09ZM9.16 -19.16L7.09 -19.22L4.97 -18.22L3.91 -16.28L3.84 -13.03L1.78 -12.97L1.41 -12.84L1.22 -12.59L1.22 -12.09L1.53 -11.78L3.84 -11.66L3.84 -0.66L1.78 -0.59L1.41 -0.47L1.16 0.03L1.28 0.41L1.53 0.59L8.03 0.66L8.41 0.53L8.59 0.28L8.59 -0.22L8.28 -0.53L5.97 -0.66L5.97 -11.66L8.91 -11.72L9.28 -11.84L9.53 -12.34L9.41 -12.72L8.91 -12.97L6.03 -12.97L5.97 -15.78L6.72 -17.28L7.41 -17.97L8.22 -17.91L7.59 -17.28L7.41 -16.78L7.53 -16.41L8.53 -15.41L8.91 -15.28L9.28 -15.41L10.28 -16.41L10.41 -16.78L10.34 -17.97Z"/>
<path transform="translate(228.4 504.15)" fill="#00f" d="M37.53 -7.97L37.66 -7.59L38.16 -7.34L54.09 -7.34L54.47 -7.47L54.72 -7.97L54.59 -8.34L54.09 -8.59L38.16 -8.59L37.78 -8.47ZM156.34 -12.84L155.97 -12.97L150.66 -12.97L150.16 -12.72L150.03 -12.34L150.09 -12.09L150.41 -11.78L153.16 -11.72L153.22 -11.59L149.28 -2.53L148.91 -3.22L145.41 -11.66L147.34 -11.78L147.66 -12.09L147.72 -12.34L147.59 -12.72L147.09 -12.97L141.78 -12.97L141.28 -12.72L141.16 -12.34L141.41 -11.84L141.78 -11.72L143.22 -11.66L148.22 0.03L146.59 3.22L144.97 4.84L144.22 5.22L144.09 4.97L143.03 3.97L142.66 3.84L142.28 3.97L141.28 4.97L141.16 5.34L141.28 5.72L142.28 6.72L142.66 6.84L143.91 6.78L145.53 5.97L147.59 3.97L149.53 0.16L154.53 -11.66L155.97 -11.72L156.34 -11.84L156.59 -12.34ZM103.22 -12.72L103.09 -12.34L103.16 -12.09L103.47 -11.78L105.72 -11.66L105.72 -2.66L105.78 -2.34L106.84 -0.34L109.53 0.59L111.66 0.66L114.59 -0.28L115.41 -1.03L115.53 0.28L115.84 0.59L119.66 0.66L120.16 0.41L120.28 0.03L120.22 -0.22L119.91 -0.53L117.59 -0.66L117.59 -12.34L117.34 -12.84L116.97 -12.97L113.47 -12.97L113.09 -12.84L112.91 -12.59L112.91 -12.09L113.22 -11.78L115.47 -11.66L115.47 -2.91L113.91 -1.34L111.66 -0.59L110.03 -0.59L108.66 -1.28L107.84 -2.78L107.84 -12.34L107.72 -12.72L107.22 -12.97L103.72 -12.97ZM91.97 -12.97L89.34 -12.09L87.22 -10.09L86.28 -7.41L86.22 -5.28L87.28 -2.16L89.03 -0.41L91.84 0.59L93.97 0.66L97.09 -0.41L98.84 -2.16L99.84 -4.97L99.91 -7.03L98.91 -10.09L96.97 -11.97L94.22 -12.97ZM92.22 -11.72L93.91 -11.72L95.28 -11.03L96.97 -9.34L97.78 -6.91L97.78 -5.41L96.97 -3.03L95.22 -1.28L93.84 -0.59L92.28 -0.59L90.91 -1.28L89.16 -3.03L88.34 -5.41L88.34 -6.91L89.16 -9.34L90.84 -11.03ZM65.34 -12.97L62.72 -12.09L60.66 -10.09L59.66 -7.28L59.66 -5.09L60.72 -2.16L62.53 -0.34L65.22 0.59L67.34 0.66L70.41 -0.34L72.22 -2.16L72.41 -2.66L72.34 -2.91L72.03 -3.22L71.53 -3.22L69.59 -1.34L67.34 -0.59L65.72 -0.59L64.22 -1.34L62.59 -2.97L61.78 -5.34L61.78 -6.97L62.53 -9.28L64.28 -11.03L65.66 -11.72L68.22 -11.72L69.59 -11.03L70.47 -10.16L69.53 -9.22L69.41 -8.84L69.53 -8.47L70.53 -7.47L70.91 -7.34L71.28 -7.47L72.28 -8.47L72.41 -8.84L72.41 -9.72L72.28 -10.09L70.41 -11.97L68.59 -12.91ZM12.97 -12.84L12.72 -12.34L12.97 -11.84L13.34 -11.72L15.34 -11.66L15.34 -0.66L13.09 -0.53L12.78 -0.22L12.72 0.03L12.84 0.41L13.34 0.66L19.53 0.66L19.91 0.53L20.16 0.03L20.03 -0.34L19.78 -0.53L17.47 -0.66L17.47 -12.34L17.34 -12.72L16.84 -12.97L13.34 -12.97ZM131.78 -19.16L131.53 -18.97L131.41 -18.59L131.66 -18.09L132.03 -17.97L134.09 -17.91L134.09 -11.34L134.03 -11.28L133.16 -12.09L131.53 -12.91L129.16 -12.97L126.34 -11.97L124.34 -9.91L123.47 -7.34L123.47 -5.03L124.34 -2.41L126.34 -0.34L129.03 0.59L131.47 0.59L133.22 -0.28L134.03 -1.03L134.16 0.28L134.47 0.59L138.47 0.59L138.72 0.41L138.84 0.03L138.59 -0.47L138.22 -0.59L136.22 -0.66L136.16 -18.84L135.97 -19.09L135.59 -19.22ZM129.47 -11.72L131.16 -11.72L132.47 -11.03L134.09 -9.41L134.09 -2.91L132.47 -1.28L131.09 -0.59L129.53 -0.59L128.03 -1.34L126.34 -3.03L125.59 -5.28L125.59 -7.03L126.34 -9.34L127.97 -10.97ZM75.97 -19.16L75.72 -18.97L75.59 -18.59L75.84 -18.09L76.22 -17.97L78.28 -17.91L78.28 -0.66L75.97 -0.53L75.66 -0.22L75.66 0.28L75.84 0.53L76.22 0.66L82.66 0.59L82.91 0.41L83.03 0.03L82.78 -0.47L82.41 -0.59L80.41 -0.66L80.34 -18.84L80.16 -19.09L79.78 -19.22ZM25.72 -19.22L25.34 -19.09L25.09 -18.59L25.09 -13.03L22.84 -12.91L22.59 -12.72L22.47 -12.34L22.59 -11.97L22.84 -11.78L25.09 -11.66L25.09 -3.53L26.09 -0.47L28.09 0.59L30.16 0.66L32.22 -0.28L32.53 -0.66L33.47 -2.66L33.22 -3.16L32.84 -3.28L32.47 -3.16L31.47 -1.34L30.09 -0.59L28.66 -0.59L27.97 -1.34L27.22 -3.59L27.22 -11.66L30.16 -11.72L30.53 -11.84L30.78 -12.34L30.66 -12.72L30.16 -12.97L27.22 -13.03L27.22 -18.59L27.09 -18.97L26.84 -19.16L26.59 -19.22L26.16 -19.03ZM15.97 -19.22L15.59 -19.09L14.59 -18.09L14.47 -17.72L14.66 -17.22L15.59 -16.28L15.97 -16.16L16.34 -16.28L17.28 -17.22L17.47 -17.72L17.34 -18.09L16.34 -19.09ZM9.16 -19.16L7.09 -19.22L4.97 -18.22L3.91 -16.28L3.84 -13.03L1.78 -12.97L1.41 -12.84L1.22 -12.59L1.22 -12.09L1.53 -11.78L3.84 -11.66L3.84 -0.66L1.78 -0.59L1.41 -0.47L1.16 0.03L1.28 0.41L1.53 0.59L8.03 0.66L8.41 0.53L8.59 0.28L8.59 -0.22L8.28 -0.53L5.97 -0.66L5.97 -11.66L8.91 -11.72L9.28 -11.84L9.53 -12.34L9.41 -12.72L8.91 -12.97L6.03 -12.97L5.97 -15.78L6.72 -17.28L7.41 -17.97L8.22 -17.91L7.59 -17.28L7.41 -16.78L7.53 -16.41L8.53 -15.41L8.91 -15.28L9.28 -15.41L10.28 -16.41L10.41 -16.78L10.34 -17.97Z"/>
<path transform="translate(228.4 537.8)" fill="#0f0" d="M37.53 -7.97L37.66 -7.59L38.16 -7.34L54.09 -7.34L54.47 -7.47L54.72 -7.97L54.59 -8.34L54.09 -8.59L38.16 -8.59L37.78 -8.47ZM93.41 -12.59L93.41 -12.09L93.72 -11.78L95.97 -11.66L95.97 -0.66L93.97 -0.59L93.59 -0.47L93.34 0.03L93.47 0.41L93.72 0.59L100.16 0.66L100.66 0.41L100.78 0.03L100.72 -0.22L100.41 -0.53L98.09 -0.66L98.09 -9.41L99.66 -10.97L101.91 -11.72L103.66 -11.72L104.91 -11.09L105.72 -9.59L105.72 -0.66L103.47 -0.53L103.22 -0.34L103.09 0.03L103.34 0.53L103.72 0.66L109.91 0.66L110.41 0.41L110.53 0.03L110.47 -0.22L110.16 -0.53L107.84 -0.66L107.84 -9.41L109.41 -10.97L111.66 -11.72L113.41 -11.72L114.66 -11.09L115.47 -9.59L115.47 -0.66L113.22 -0.53L112.91 -0.22L112.84 0.03L112.97 0.41L113.47 0.66L119.66 0.66L120.03 0.53L120.22 0.28L120.22 -0.22L119.91 -0.53L117.59 -0.66L117.59 -9.72L116.66 -11.78L116.16 -12.16L113.72 -12.97L111.41 -12.97L108.78 -12.09L107.41 -10.84L106.97 -11.72L106.53 -12.09L103.97 -12.97L101.72 -12.97L99.09 -12.09L98.16 -11.22L98.03 -12.59L97.72 -12.91L93.97 -12.97L93.59 -12.84ZM73.97 -12.72L73.84 -12.34L73.91 -12.09L74.22 -11.78L76.47 -11.66L76.47 -2.66L76.53 -2.34L77.59 -0.34L80.28 0.59L82.41 0.66L85.22 -0.22L86.16 -1.03L86.28 0.28L86.59 0.59L90.41 0.66L90.91 0.41L91.03 0.03L90.97 -0.22L90.66 -0.53L88.34 -0.66L88.34 -12.34L88.09 -12.84L87.72 -12.97L84.22 -12.97L83.84 -12.84L83.66 -12.59L83.66 -12.09L83.97 -11.78L86.22 -11.66L86.22 -2.91L84.66 -1.34L82.41 -0.59L80.78 -0.59L79.41 -1.28L78.59 -2.78L78.59 -12.34L78.47 -12.72L77.97 -12.97L74.47 -12.97ZM62.59 -12.91L60.78 -11.97L59.78 -10.97L59.66 -10.59L59.66 -8.84L59.78 -8.47L60.78 -7.47L62.16 -6.72L67.03 -4.78L68.78 -3.91L69.41 -3.28L69.41 -1.97L68.78 -1.34L67.28 -0.59L63.97 -0.59L62.34 -1.41L61.72 -2.03L60.78 -3.91L60.28 -4.16L59.91 -4.03L59.66 -3.53L59.72 0.28L60.03 0.59L60.28 0.66L60.66 0.53L61.34 -0.66L61.66 -0.34L63.84 0.66L67.66 0.59L69.53 -0.34L70.53 -1.34L70.66 -1.72L70.66 -4.41L70.53 -4.78L69.34 -5.91L67.47 -6.84L63.53 -8.34L61.53 -9.34L60.91 -9.97L60.91 -10.34L61.53 -10.97L63.03 -11.72L66.47 -11.72L67.78 -11.03L68.72 -10.09L69.41 -8.59L69.66 -8.34L70.03 -8.22L70.41 -8.34L70.66 -8.84L70.59 -12.59L70.28 -12.91L70.03 -12.97L69.66 -12.84L68.91 -11.72L68.47 -12.09L66.84 -12.91ZM12.97 -12.84L12.72 -12.34L12.97 -11.84L13.34 -11.72L15.34 -11.66L15.34 -0.66L13.09 -0.53L12.78 -0.22L12.72 0.03L12.84 0.41L13.34 0.66L19.53 0.66L19.91 0.53L20.16 0.03L20.03 -0.34L19.78 -0.53L17.47 -0.66L17.47 -12.34L17.34 -12.72L16.84 -12.97L13.34 -12.97ZM25.72 -19.22L25.34 -19.09L25.09 -18.59L25.09 -13.03L22.84 -12.91L22.59 -12.72L22.47 -12.34L22.59 -11.97L22.84 -11.78L25.09 -11.66L25.09 -3.53L26.09 -0.47L28.09 0.59L30.16 0.66L32.22 -0.28L32.53 -0.66L33.47 -2.66L33.22 -3.16L32.84 -3.28L32.47 -3.16L31.47 -1.34L30.09 -0.59L28.66 -0.59L27.97 -1.34L27.22 -3.59L27.22 -11.66L30.16 -11.72L30.53 -11.84L30.78 -12.34L30.66 -12.72L30.16 -12.97L27.22 -13.03L27.22 -18.59L27.09 -18.97L26.84 -19.16L26.59 -19.22L26.16 -19.03ZM15.97 -19.22L15.59 -19.09L14.59 -18.09L14.47 -17.72L14.66 -17.22L15.59 -16.28L15.97 -16.16L16.34 -16.28L17.28 -17.22L17.47 -17.72L17.34 -18.09L16.34 -19.09ZM9.16 -19.16L7.09 -19.22L4.97 -18.22L3.91 -16.28L3.84 -13.03L1.78 -12.97L1.41 -12.84L1.22 -12.59L1.22 -12.09L1.53 -11.78L3.84 -11.66L3.84 -0.66L1.78 -0.59L1.41 -0.47L1.16 0.03L1.28 0.41L1.53 0.59L8.03 0.66L8.41 0.53L8.59 0.28L8.59 -0.22L8.28 -0.53L5.97 -0.66L5.97 -11.66L8.91 -11.72L9.28 -11.84L9.53 -12.34L9.41 -12.72L8.91 -12.97L6.03 -12.97L5.97 -15.78L6.72 -17.28L7.41 -17.97L8.22 -17.91L7.59 -17.28L7.41 -16.78L7.53 -16.41L8.53 -15.41L8.91 -15.28L9.28 -15.41L10.28 -16.41L10.41 -16.78L10.34 -17.97Z"/>
<path transform="translate(126.7 759.2)" fill="#000" d="M8.03 -19.22L4.97 -18.22L3.03 -15.41L2.09 -10.97L2.09 -7.66L3.03 -3.16L4.78 -0.53L5.22 -0.22L7.66 0.59L9.78 0.66L12.78 -0.34L14.66 -3.03L14.84 -3.41L15.72 -7.78L15.72 -10.78L14.84 -15.16L12.97 -18.03L12.53 -18.34L10.09 -19.16ZM8.16 -17.97L9.59 -17.97L11.09 -17.22L12.03 -16.28L12.72 -14.91L13.59 -10.59L13.59 -7.97L12.72 -3.66L11.97 -2.16L11.16 -1.34L9.66 -0.59L8.16 -0.59L6.53 -1.41L5.84 -2.09L5.03 -3.78L4.22 -7.84L4.22 -10.72L5.03 -14.78L5.84 -16.41L6.66 -17.22Z"/>
<path transform="translate(221.89 759.2)" fill="#000" d="M22.16 -2.34L21.78 -2.22L20.78 -1.22L20.66 -0.84L20.78 -0.47L21.78 0.53L22.16 0.66L22.66 0.47L23.59 -0.47L23.72 -0.84L23.59 -1.22L22.84 -1.97ZM30.66 -18.22L29.59 -17.09L28.66 -15.03L28.72 -13.91L29.78 -12.78L30.16 -12.66L30.53 -12.78L31.53 -13.78L31.66 -14.16L31.53 -14.53L30.28 -15.66L30.59 -16.34L31.41 -17.16L33.78 -17.97L37.09 -17.97L38.59 -17.22L39.41 -16.41L40.16 -14.91L40.16 -13.34L39.53 -12.09L39.16 -11.72L37.09 -10.34L31.72 -7.66L29.66 -5.66L28.66 -2.84L28.66 0.03L28.78 0.41L29.28 0.66L29.78 0.41L29.91 0.03L29.91 -1.47L30.47 -2.03L31.72 -2.03L36.03 0.59L39.91 0.66L40.28 0.53L41.28 -0.47L42.22 -2.28L42.28 -4.41L42.16 -4.78L41.91 -4.97L41.41 -4.97L41.09 -4.66L41.03 -2.91L40.34 -2.22L38.84 -1.47L36.47 -1.47L32.16 -3.22L30.16 -3.34L30.66 -4.91L32.28 -6.53L34.28 -7.53L38.53 -9.22L41.28 -11.09L42.22 -12.91L42.28 -13.28L42.22 -15.41L41.41 -17.03L40.28 -18.22L37.22 -19.22L33.72 -19.22ZM8.03 -19.22L4.97 -18.22L3.03 -15.41L2.09 -10.97L2.09 -7.66L3.03 -3.16L4.78 -0.53L5.22 -0.22L7.66 0.59L9.78 0.66L12.78 -0.34L14.66 -3.03L14.84 -3.41L15.72 -7.78L15.72 -10.78L14.84 -15.16L12.97 -18.03L12.53 -18.34L10.09 -19.16ZM8.16 -17.97L9.59 -17.97L11.09 -17.22L12.03 -16.28L12.72 -14.91L13.59 -10.59L13.59 -7.97L12.72 -3.66L11.97 -2.16L11.16 -1.34L9.66 -0.59L8.16 -0.59L6.53 -1.41L5.84 -2.09L5.03 -3.78L4.22 -7.84L4.22 -10.72L5.03 -14.78L5.84 -16.41L6.66 -17.22Z"/>
<path transform="translate(330.37 759.2)" fill="#000" d="M22.16 -2.34L21.78 -2.22L20.78 -1.22L20.66 -0.84L20.78 -0.47L21.78 0.53L22.16 0.66L22.66 0.47L23.59 -0.47L23.72 -0.84L23.59 -1.22L22.84 -1.97ZM38.16 -19.22L37.78 -19.09L37.09 -18.28L28.16 -6.09L27.78 -5.28L27.91 -4.91L28.41 -4.66L36.53 -4.66L36.59 -0.66L34.59 -0.59L34.22 -0.47L34.03 -0.22L34.03 0.28L34.22 0.53L34.59 0.66L40.78 0.66L41.16 0.53L41.41 0.03L41.16 -0.47L40.78 -0.59L38.78 -0.66L38.78 -4.59L42.53 -4.66L42.91 -4.78L43.16 -5.28L43.03 -5.66L42.53 -5.91L38.78 -5.97L38.78 -18.59L38.66 -18.97ZM36.53 -15.34L36.59 -5.97L29.72 -5.91L29.66 -5.97ZM8.03 -19.22L4.97 -18.22L3.03 -15.41L2.09 -10.97L2.09 -7.66L3.03 -3.16L4.78 -0.53L5.22 -0.22L7.66 0.59L9.78 0.66L12.78 -0.34L14.66 -3.03L14.84 -3.41L15.72 -7.78L15.72 -10.78L14.84 -15.16L12.97 -18.03L12.53 -18.34L10.09 -19.16ZM8.16 -17.97L9.59 -17.97L11.09 -17.22L12.03 -16.28L12.72 -14.91L13.59 -10.59L13.59 -7.97L12.72 -3.66L11.97 -2.16L11.16 -1.34L9.66 -0.59L8.16 -0.59L6.53 -1.41L5.84 -2.09L5.03 -3.78L4.22 -7.84L4.22 -10.72L5.03 -14.78L5.84 -16.41L6.66 -17.22Z"/>
<path transform="translate(438.85 759.2)" fill="#000" d="M22.16 -2.34L21.78 -2.22L20.78 -1.22L20.66 -0.84L20.78 -0.47L21.78 0.53L22.16 0.66L22.66 0.47L23.59 -0.47L23.72 -0.84L23.59 -1.22L22.84 -1.97ZM38.16 -19.22L35.47 -19.22L32.34 -18.16L30.47 -16.22L29.59 -14.47L28.66 -10.84L28.66 -5.09L29.53 -2.41L31.53 -0.34L34.22 0.59L36.34 0.66L39.41 -0.34L41.41 -2.41L42.28 -5.09L42.28 -6.41L41.41 -9.03L39.22 -11.22L36.53 -12.09L35.22 -12.09L32.59 -11.22L30.84 -9.53L30.78 -9.59L30.78 -10.59L31.59 -13.84L32.34 -15.41L34.22 -17.28L35.59 -17.97L37.97 -17.97L39.47 -17.16L39.78 -16.53L38.53 -15.41L38.41 -15.03L38.53 -14.66L39.53 -13.66L39.91 -13.53L40.28 -13.66L41.28 -14.66L41.41 -15.03L41.34 -16.28L40.41 -18.09ZM35.47 -10.84L36.28 -10.84L37.66 -10.16L39.41 -8.41L40.16 -6.16L40.16 -5.28L39.34 -2.97L37.66 -1.28L36.28 -0.59L34.72 -0.59L33.22 -1.34L31.59 -2.97L30.78 -5.28L30.78 -6.16L31.53 -8.41L33.22 -10.09ZM8.03 -19.22L4.97 -18.22L3.03 -15.41L2.09 -10.97L2.09 -7.66L3.03 -3.16L4.78 -0.53L5.22 -0.22L7.66 0.59L9.78 0.66L12.78 -0.34L14.66 -3.03L14.84 -3.41L15.72 -7.78L15.72 -10.78L14.84 -15.16L12.97 -18.03L12.53 -18.34L10.09 -19.16ZM8.16 -17.97L9.59 -17.97L11.09 -17.22L12.03 -16.28L12.72 -14.91L13.59 -10.59L13.59 -7.97L12.72 -3.66L11.97 -2.16L11.16 -1.34L9.66 -0.59L8.16 -0.59L6.53 -1.41L5.84 -2.09L5.03 -3.78L4.22 -7.84L4.22 -10.72L5.03 -14.78L5.84 -16.41L6.66 -17.22Z"/>
<path transform="translate(547.33 759.2)" fill="#000" d="M22.16 -2.34L21.78 -2.22L20.78 -1.22L20.66 -0.84L20.78 -0.47L21.78 0.53L22.16 0.66L22.66 0.47L23.59 -0.47L23.72 -0.84L23.59 -1.22L22.84 -1.97ZM33.41 -19.16L30.66 -18.22L29.59 -16.22L29.59 -12.97L30.53 -11.09L30.91 -10.84L31.66 -10.59L30.66 -10.22L29.66 -9.22L28.72 -7.41L28.72 -3.16L29.66 -1.34L30.91 -0.22L33.72 0.66L37.59 0.59L40.28 -0.34L41.28 -1.34L42.22 -3.16L42.22 -7.41L41.28 -9.22L40.28 -10.22L39.34 -10.59L40.41 -11.09L41.34 -12.91L41.34 -16.28L40.41 -18.09L40.03 -18.34L37.22 -19.22ZM33.84 -9.97L37.16 -9.97L38.66 -9.22L39.34 -8.53L40.16 -6.91L40.16 -3.59L39.34 -2.03L38.66 -1.34L37.16 -0.59L33.84 -0.59L32.22 -1.41L31.59 -2.03L30.78 -3.59L30.78 -6.91L31.59 -8.53L32.22 -9.16ZM32.34 -17.16L33.84 -17.97L37.09 -17.97L38.47 -17.28L39.28 -15.78L39.28 -13.41L38.59 -12.03L37.09 -11.22L33.84 -11.22L32.47 -11.91L31.66 -13.41L31.66 -15.78ZM8.03 -19.22L4.97 -18.22L3.03 -15.41L2.09 -10.97L2.09 -7.66L3.03 -3.16L4.78 -0.53L5.22 -0.22L7.66 0.59L9.78 0.66L12.78 -0.34L14.66 -3.03L14.84 -3.41L15.72 -7.78L15.72 -10.78L14.84 -15.16L12.97 -18.03L12.53 -18.34L10.09 -19.16ZM8.16 -17.97L9.59 -17.97L11.09 -17.22L12.03 -16.28L12.72 -14.91L13.59 -10.59L13.59 -7.97L12.72 -3.66L11.97 -2.16L11.16 -1.34L9.66 -0.59L8.16 -0.59L6.53 -1.41L5.84 -2.09L5.03 -3.78L4.22 -7.84L4.22 -10.72L5.03 -14.78L5.84 -16.41L6.66 -17.22Z"/>
<path transform="translate(669.1 759.2)" fill="#000" d="M9.78 -19.22L9.41 -19.09L6.66 -16.34L4.97 -15.53L4.72 -15.03L4.97 -14.53L5.34 -14.41L5.66 -14.47L7.41 -15.34L8.22 -16.16L8.28 -16.09L8.28 -0.66L5.09 -0.53L4.84 -0.34L4.72 0.03L4.84 0.41L5.34 0.66L13.34 0.66L13.72 0.53L13.97 0.03L13.84 -0.34L13.34 -0.59L10.41 -0.66L10.41 -18.59L10.28 -18.97Z"/>
<path transform="translate(764.29 759.2)" fill="#000" d="M22.16 -2.34L21.78 -2.22L20.78 -1.22L20.66 -0.84L20.78 -0.47L21.78 0.53L22.16 0.66L22.66 0.47L23.59 -0.47L23.72 -0.84L23.59 -1.22L22.84 -1.97ZM30.66 -18.22L29.59 -17.09L28.66 -15.03L28.72 -13.91L29.78 -12.78L30.16 -12.66L30.53 -12.78L31.53 -13.78L31.66 -14.16L31.53 -14.53L30.28 -15.66L30.59 -16.34L31.41 -17.16L33.78 -17.97L37.09 -17.97L38.59 -17.22L39.41 -16.41L40.16 -14.91L40.16 -13.34L39.53 -12.09L39.16 -11.72L37.09 -10.34L31.72 -7.66L29.66 -5.66L28.66 -2.84L28.66 0.03L28.78 0.41L29.28 0.66L29.78 0.41L29.91 0.03L29.91 -1.47L30.47 -2.03L31.72 -2.03L36.03 0.59L39.91 0.66L40.28 0.53L41.28 -0.47L42.22 -2.28L42.28 -4.41L42.16 -4.78L41.91 -4.97L41.41 -4.97L41.09 -4.66L41.03 -2.91L40.34 -2.22L38.84 -1.47L36.47 -1.47L32.16 -3.22L30.16 -3.34L30.66 -4.91L32.28 -6.53L34.28 -7.53L38.53 -9.22L41.28 -11.09L42.22 -12.91L42.28 -13.28L42.22 -15.41L41.41 -17.03L40.28 -18.22L37.22 -19.22L33.72 -19.22ZM9.78 -19.22L9.41 -19.09L6.66 -16.34L4.97 -15.53L4.72 -15.03L4.97 -14.53L5.34 -14.41L5.66 -14.47L7.41 -15.34L8.22 -16.16L8.28 -16.09L8.28 -0.66L5.09 -0.53L4.84 -0.34L4.72 0.03L4.84 0.41L5.34 0.66L13.34 0.66L13.72 0.53L13.97 0.03L13.84 -0.34L13.34 -0.59L10.41 -0.66L10.41 -18.59L10.28 -18.97Z"/>
<path transform="translate(90.9 380)" fill="#000" d="M8.03 -19.22L4.97 -18.22L3.03 -15.41L2.09 -10.97L2.09 -7.66L3.03 -3.16L4.78 -0.53L5.22 -0.22L7.66 0.59L9.78 0.66L12.78 -0.34L14.66 -3.03L14.84 -3.41L15.72 -7.78L15.72 -10.78L14.84 -15.16L12.97 -18.03L12.53 -18.34L10.09 -19.16ZM8.16 -17.97L9.59 -17.97L11.09 -17.22L12.03 -16.28L12.72 -14.91L13.59 -10.59L13.59 -7.97L12.72 -3.66L11.97 -2.16L11.16 -1.34L9.66 -0.59L8.16 -0.59L6.53 -1.41L5.84 -2.09L5.03 -3.78L4.22 -7.84L4.22 -10.72L5.03 -14.78L5.84 -16.41L6.66 -17.22Z"/>
<path transform="translate(90.9 279.8)" fill="#000" d="M4.09 -18.22L2.97 -17.03L2.16 -15.41L2.09 -14.16L2.22 -13.72L3.09 -12.84L3.59 -12.66L3.97 -12.78L5.03 -13.91L5.09 -14.16L4.97 -14.53L3.72 -15.66L4.03 -16.34L4.84 -17.16L7.22 -17.97L10.53 -17.97L11.91 -17.28L12.91 -16.28L13.59 -14.91L13.59 -13.41L12.91 -12.03L12.66 -11.78L10.53 -10.34L5.16 -7.66L3.09 -5.66L2.09 -2.91L2.09 0.03L2.22 0.41L2.72 0.66L3.22 0.41L3.34 0.03L3.34 -1.47L3.91 -2.03L5.16 -2.03L9.47 0.59L13.34 0.66L13.72 0.53L14.72 -0.47L15.66 -2.34L15.72 -4.41L15.59 -4.78L15.34 -4.97L14.84 -4.97L14.53 -4.66L14.47 -2.91L13.78 -2.22L12.28 -1.47L9.91 -1.47L5.59 -3.22L3.66 -3.28L3.59 -3.41L4.09 -4.91L5.72 -6.53L7.72 -7.53L11.97 -9.22L14.72 -11.09L15.72 -13.28L15.66 -15.34L14.78 -17.09L13.72 -18.22L10.66 -19.22L7.09 -19.22Z"/>
<path transform="translate(90.9 179.6)" fill="#000" d="M11.53 -19.22L10.97 -18.91L1.34 -5.78L1.16 -5.28L1.28 -4.91L1.78 -4.66L9.97 -4.66L10.03 -0.66L8.03 -0.59L7.66 -0.47L7.47 -0.22L7.47 0.28L7.66 0.53L8.03 0.66L14.22 0.66L14.59 0.53L14.84 0.03L14.72 -0.34L14.47 -0.53L12.16 -0.66L12.16 -4.59L15.97 -4.66L16.34 -4.78L16.59 -5.28L16.47 -5.66L15.97 -5.91L12.16 -5.97L12.16 -18.59L12.03 -18.97ZM9.97 -15.34L10.03 -5.97L3.16 -5.91L3.09 -5.97Z"/>
<path transform="translate(90.9 79.4)" fill="#000" d="M11.53 -19.22L8.91 -19.22L5.84 -18.22L3.84 -16.16L3.03 -14.53L2.09 -10.91L2.09 -5.03L2.97 -2.41L4.97 -0.34L7.66 0.59L9.78 0.66L12.91 -0.41L14.66 -2.16L14.84 -2.47L15.72 -5.28L15.66 -6.53L14.72 -9.22L12.66 -11.22L9.97 -12.09L8.66 -12.09L6.03 -11.22L4.28 -9.53L4.22 -9.59L4.22 -10.66L5.03 -13.91L5.84 -15.53L7.53 -17.22L9.03 -17.97L11.41 -17.97L12.91 -17.16L13.22 -16.53L11.91 -15.41L11.78 -15.03L11.91 -14.66L12.84 -13.72L13.34 -13.53L13.59 -13.59L14.72 -14.66L14.84 -15.03L14.78 -16.22L13.84 -18.09L11.84 -19.16ZM8.84 -10.84L9.66 -10.84L11.16 -10.09L12.78 -8.47L13.59 -6.09L13.59 -5.34L12.78 -2.97L11.16 -1.34L9.66 -0.59L8.16 -0.59L6.66 -1.34L4.97 -3.03L4.22 -5.28L4.22 -6.16L4.97 -8.47L6.59 -10.09Z"/>
<path transform="translate(90.9 728.3)" fill="#000" d="M8.03 -19.22L4.97 -18.22L3.03 -15.41L2.09 -10.97L2.09 -7.66L3.03 -3.16L4.78 -0.53L5.22 -0.22L7.66 0.59L9.78 0.66L12.78 -0.34L14.66 -3.03L14.84 -3.41L15.72 -7.78L15.72 -10.78L14.84 -15.16L12.97 -18.03L12.53 -18.34L10.09 -19.16ZM8.16 -17.97L9.59 -17.97L11.09 -17.22L12.03 -16.28L12.72 -14.91L13.59 -10.59L13.59 -7.97L12.72 -3.66L11.97 -2.16L11.16 -1.34L9.66 -0.59L8.16 -0.59L6.53 -1.41L5.84 -2.09L5.03 -3.78L4.22 -7.84L4.22 -10.72L5.03 -14.78L5.84 -16.41L6.66 -17.22Z"/>
<path transform="translate(90.9 628.1)" fill="#000" d="M4.09 -18.22L2.97 -17.03L2.16 -15.41L2.09 -14.16L2.22 -13.72L3.09 -12.84L3.59 -12.66L3.97 -12.78L5.03 -13.91L5.09 -14.16L4.97 -14.53L3.72 -15.66L4.03 -16.34L4.84 -17.16L7.22 -17.97L10.53 -17.97L11.91 -17.28L12.91 -16.28L13.59 -14.91L13.59 -13.41L12.91 -12.03L12.66 -11.78L10.53 -10.34L5.16 -7.66L3.09 -5.66L2.09 -2.91L2.09 0.03L2.22 0.41L2.72 0.66L3.22 0.41L3.34 0.03L3.34 -1.47L3.91 -2.03L5.16 -2.03L9.47 0.59L13.34 0.66L13.72 0.53L14.72 -0.47L15.66 -2.34L15.72 -4.41L15.59 -4.78L15.34 -4.97L14.84 -4.97L14.53 -4.66L14.47 -2.91L13.78 -2.22L12.28 -1.47L9.91 -1.47L5.59 -3.22L3.66 -3.28L3.59 -3.41L4.09 -4.91L5.72 -6.53L7.72 -7.53L11.97 -9.22L14.72 -11.09L15.72 -13.28L15.66 -15.34L14.78 -17.09L13.72 -18.22L10.66 -19.22L7.09 -19.22Z"/>
<path transform="translate(90.9 527.9)" fill="#000" d="M11.53 -19.22L10.97 -18.91L1.34 -5.78L1.16 -5.28L1.28 -4.91L1.78 -4.66L9.97 -4.66L10.03 -0.66L8.03 -0.59L7.66 -0.47L7.47 -0.22L7.47 0.28L7.66 0.53L8.03 0.66L14.22 0.66L14.59 0.53L14.84 0.03L14.72 -0.34L14.47 -0.53L12.16 -0.66L12.16 -4.59L15.97 -4.66L16.34 -4.78L16.59 -5.28L16.47 -5.66L15.97 -5.91L12.16 -5.97L12.16 -18.59L12.03 -18.97ZM9.97 -15.34L10.03 -5.97L3.16 -5.91L3.09 -5.97Z"/>
<path transform="translate(90.9 427.7)" fill="#000" d="M11.53 -19.22L8.91 -19.22L5.84 -18.22L3.84 -16.16L3.03 -14.53L2.09 -10.91L2.09 -5.03L2.97 -2.41L4.97 -0.34L7.66 0.59L9.78 0.66L12.91 -0.41L14.66 -2.16L14.84 -2.47L15.72 -5.28L15.66 -6.53L14.72 -9.22L12.66 -11.22L9.97 -12.09L8.66 -12.09L6.03 -11.22L4.28 -9.53L4.22 -9.59L4.22 -10.66L5.03 -13.91L5.84 -15.53L7.53 -17.22L9.03 -17.97L11.41 -17.97L12.91 -17.16L13.22 -16.53L11.91 -15.41L11.78 -15.03L11.91 -14.66L12.84 -13.72L13.34 -13.53L13.59 -13.59L14.72 -14.66L14.84 -15.03L14.78 -16.22L13.84 -18.09L11.84 -19.16ZM8.84 -10.84L9.66 -10.84L11.16 -10.09L12.78 -8.47L13.59 -6.09L13.59 -5.34L12.78 -2.97L11.16 -1.34L9.66 -0.59L8.16 -0.59L6.66 -1.34L4.97 -3.03L4.22 -5.28L4.22 -6.16L4.97 -8.47L6.59 -10.09Z"/>
<path transform="translate(379.42 797.3)" fill="#000" d="M139.66 -12.84L139.41 -12.34L139.66 -11.84L140.03 -11.72L142.03 -11.66L142.03 -0.66L139.78 -0.53L139.47 -0.22L139.41 0.03L139.53 0.41L140.03 0.66L146.22 0.66L146.59 0.53L146.84 0.03L146.59 -0.47L146.22 -0.59L144.22 -0.66L144.22 -7.09L144.97 -9.34L146.59 -10.97L148.09 -11.72L149.91 -11.72L149.97 -11.66L149.28 -10.97L149.16 -10.59L149.22 -10.34L150.28 -9.22L150.66 -9.09L150.91 -9.16L152.09 -10.34L152.16 -11.47L151.97 -11.97L151.09 -12.84L150.66 -12.97L147.66 -12.91L145.84 -11.97L144.28 -10.41L144.22 -12.34L143.97 -12.84L143.59 -12.97L140.03 -12.97ZM123.59 -10.97L123.47 -10.59L123.53 -9.47L123.72 -9.22L124.09 -9.09L124.97 -9.09L125.34 -9.22L125.59 -9.72L125.59 -10.59L125.47 -11.03L126.78 -11.72L130.22 -11.72L131.59 -11.03L132.28 -10.34L132.28 -9.09L131.59 -8.47L126.78 -7.72L126.59 -7.59L126.47 -7.66L123.84 -6.78L123.47 -6.41L122.59 -4.66L122.53 -2.66L123.47 -0.66L123.72 -0.34L126.34 0.59L129.41 0.66L131.47 -0.28L132.72 -1.53L133.22 -0.59L133.53 -0.28L135.28 0.59L136.47 0.66L136.97 0.41L137.09 0.03L136.97 -0.34L136.47 -0.59L135.84 -0.59L135.22 -1.22L134.47 -2.72L134.47 -8.84L133.53 -10.84L132.34 -12.03L130.28 -12.97L126.72 -12.97L126.34 -12.91L124.72 -12.09ZM132.28 -7.34L132.28 -2.91L130.66 -1.28L129.28 -0.59L126.84 -0.59L125.41 -1.34L124.72 -2.72L124.72 -4.28L125.34 -5.59L125.53 -5.78L127.22 -6.53ZM100.78 -12.97L98.16 -12.09L96.09 -10.09L95.16 -7.41L95.09 -5.28L95.97 -2.47L96.16 -2.16L97.91 -0.41L100.66 0.59L102.78 0.66L105.84 -0.34L107.84 -2.41L108.72 -5.03L108.72 -7.34L107.84 -9.91L105.84 -11.97L103.09 -12.97ZM101.09 -11.72L102.78 -11.72L104.22 -10.97L105.84 -9.34L106.59 -7.03L106.59 -5.28L105.84 -3.03L104.09 -1.28L102.72 -0.59L101.16 -0.59L99.66 -1.34L98.03 -2.97L97.22 -5.34L97.22 -6.97L98.03 -9.34L99.72 -11.03ZM22.59 -10.97L22.47 -10.59L22.53 -9.47L22.72 -9.22L23.09 -9.09L23.97 -9.09L24.34 -9.22L24.59 -9.72L24.59 -10.59L24.47 -11.03L25.78 -11.72L29.22 -11.72L30.59 -11.03L31.28 -10.34L31.28 -9.09L30.72 -8.53L25.47 -7.66L22.84 -6.78L22.47 -6.41L21.59 -4.66L21.53 -2.66L22.47 -0.59L22.72 -0.34L25.34 0.59L28.41 0.66L30.53 -0.34L31.72 -1.53L32.22 -0.59L32.53 -0.28L34.28 0.59L35.47 0.66L35.97 0.41L36.09 0.03L35.97 -0.34L35.47 -0.59L34.84 -0.59L34.22 -1.22L33.47 -2.66L33.47 -8.84L32.53 -10.84L31.34 -12.03L29.28 -12.97L25.72 -12.97L25.34 -12.91L23.72 -12.09ZM31.28 -7.34L31.28 -2.91L29.66 -1.28L28.28 -0.59L25.84 -0.59L24.41 -1.34L23.72 -2.72L23.72 -4.34L24.53 -5.78L26.22 -6.53ZM112.28 -19.16L112.03 -18.97L111.91 -18.59L112.16 -18.09L112.53 -17.97L114.59 -17.91L114.59 -0.66L112.28 -0.53L111.97 -0.22L111.97 0.28L112.16 0.53L112.53 0.66L119.03 0.59L119.28 0.41L119.41 0.03L119.16 -0.47L118.78 -0.59L116.72 -0.66L116.66 -18.84L116.47 -19.09L116.09 -19.22ZM90.78 -19.09L90.41 -19.22L89.91 -18.97L89.22 -17.09L88.09 -18.22L85.41 -19.16L82.41 -19.22L79.41 -18.22L77.47 -16.28L77.34 -15.91L77.41 -13.91L78.41 -11.97L79.47 -10.91L81.22 -10.03L86.59 -8.28L88.22 -7.47L89.78 -5.91L89.78 -2.91L88.22 -1.34L85.97 -0.59L83.34 -0.59L81.09 -1.34L79.41 -3.03L78.47 -5.66L77.97 -5.91L77.59 -5.78L77.34 -5.28L77.34 0.03L77.59 0.53L77.97 0.66L78.47 0.41L79.09 -1.34L79.22 -1.41L80.28 -0.34L82.97 0.59L86.28 0.59L89.03 -0.34L90.84 -2.16L91.03 -2.66L91.03 -6.16L90.03 -8.34L89.03 -9.34L87.16 -10.28L81.78 -12.03L80.28 -12.78L78.59 -14.47L78.59 -15.59L80.16 -17.16L82.53 -17.97L85.03 -17.97L87.28 -17.22L89.03 -15.47L89.78 -13.03L90.16 -12.72L90.66 -12.72L90.91 -12.91L91.03 -13.28L91.03 -18.59ZM47.66 -19.16L47.41 -18.97L47.28 -18.59L47.53 -18.09L47.91 -17.97L49.91 -17.91L49.91 -11.34L49.84 -11.28L48.97 -12.09L47.34 -12.91L44.97 -12.97L42.16 -11.97L40.28 -10.09L39.28 -7.28L39.28 -5.09L40.16 -2.47L40.34 -2.16L42.16 -0.34L44.84 0.59L47.28 0.59L49.16 -0.34L49.84 -1.03L49.97 0.28L50.28 0.59L54.34 0.59L54.59 0.41L54.72 0.03L54.47 -0.47L54.09 -0.59L52.03 -0.66L51.97 -18.84L51.78 -19.09L51.41 -19.22ZM45.28 -11.72L46.97 -11.72L48.41 -10.97L49.91 -9.47L49.91 -2.91L48.28 -1.28L46.91 -0.59L45.34 -0.59L43.84 -1.34L42.22 -2.97L41.41 -5.34L41.41 -6.97L42.16 -9.28L43.91 -11.03ZM1.41 -19.09L1.16 -18.59L1.28 -18.22L1.53 -18.03L3.84 -17.91L3.84 -0.66L1.53 -0.53L1.22 -0.22L1.16 0.03L1.28 0.41L1.78 0.66L8.03 0.66L8.53 0.41L8.66 0.03L8.59 -0.22L8.28 -0.53L5.97 -0.66L5.97 -9.03L9.59 -9.09L11.16 -8.22L11.91 -6.72L13.47 -1.03L13.72 -0.47L14.84 0.59L16.84 0.66L17.22 0.53L18.34 -1.47L18.41 -2.66L18.28 -3.03L17.78 -3.28L17.41 -3.16L17.16 -2.66L17.16 -2.03L16.59 -1.47L16.22 -1.47L15.53 -2.28L13.03 -8.22L12.22 -9.03L15.28 -9.97L16.59 -11.28L17.41 -12.91L17.47 -15.03L17.41 -15.41L16.41 -17.28L15.22 -18.34L12.41 -19.22L1.78 -19.22ZM5.97 -17.91L12.28 -17.97L13.78 -17.22L14.66 -16.34L15.34 -14.97L15.34 -13.34L14.59 -11.84L13.84 -11.09L12.34 -10.34L6.03 -10.34ZM73.97 -22.59L73.59 -22.72L73.22 -22.59L72.97 -22.34L57.16 5.72L56.97 6.22L57.22 6.72L57.59 6.84L58.22 6.53L73.97 -21.47L74.22 -22.09Z"/>
<path transform="translate(68.6 558.5) rotate(-90) translate(-31.01 0)" fill="#000" d="M48.59 -12.09L46.47 -10.09L45.53 -7.41L45.47 -5.28L46.53 -2.16L48.28 -0.41L51.41 0.66L53.47 0.59L55.34 -0.34L56.03 -1.03L56.09 5.53L53.84 5.66L53.53 5.97L53.47 6.22L53.59 6.59L54.09 6.84L60.28 6.84L60.66 6.72L60.91 6.22L60.78 5.84L60.53 5.66L58.22 5.53L58.22 -12.34L58.09 -12.72L57.59 -12.97L57.16 -12.78L56.72 -12.97L56.34 -12.84L56.09 -12.34L56.03 -11.28L55.16 -12.09L53.22 -12.97L51.22 -12.97ZM51.47 -11.72L53.16 -11.72L54.53 -11.03L56.09 -9.47L56.09 -2.91L54.47 -1.28L53.09 -0.59L51.53 -0.59L50.16 -1.28L48.41 -3.03L47.59 -5.34L47.59 -6.97L48.41 -9.34L50.09 -11.03ZM34.34 -12.97L31.72 -12.09L29.66 -10.09L28.66 -7.28L28.66 -5.09L29.53 -2.41L31.53 -0.34L34.22 0.59L36.34 0.66L39.41 -0.34L41.22 -2.16L41.41 -2.66L41.28 -3.03L40.78 -3.28L40.41 -3.16L38.59 -1.34L36.34 -0.59L34.72 -0.59L33.22 -1.34L31.59 -2.97L30.78 -5.28L30.78 -6.34L40.78 -6.41L41.16 -6.53L41.34 -6.78L41.41 -8.84L40.47 -10.91L39.22 -12.09L37.59 -12.91ZM31.03 -7.78L31.53 -9.28L33.28 -11.03L34.66 -11.72L37.22 -11.72L38.59 -10.97L39.28 -9.59L39.22 -7.66L31.09 -7.66ZM12.97 -12.84L12.72 -12.34L12.97 -11.84L13.34 -11.72L15.34 -11.66L15.34 -0.66L13.09 -0.53L12.78 -0.22L12.72 0.03L12.84 0.41L13.34 0.66L19.53 0.66L19.91 0.53L20.16 0.03L20.03 -0.34L19.78 -0.53L17.47 -0.66L17.47 -6.97L18.22 -9.22L19.97 -11.03L21.34 -11.72L23.22 -11.72L23.28 -11.66L22.59 -10.97L22.47 -10.59L22.53 -10.34L23.59 -9.22L23.97 -9.09L24.22 -9.16L25.41 -10.34L25.47 -11.47L25.28 -11.97L24.41 -12.84L23.97 -12.97L20.91 -12.91L19.28 -12.09L17.53 -10.41L17.47 -12.34L17.22 -12.84L16.84 -12.97L13.34 -12.97ZM9.16 -19.16L7.09 -19.22L4.97 -18.22L3.91 -16.28L3.84 -13.03L1.78 -12.97L1.41 -12.84L1.22 -12.59L1.22 -12.09L1.53 -11.78L3.84 -11.66L3.84 -0.66L1.78 -0.59L1.41 -0.47L1.16 0.03L1.28 0.41L1.53 0.59L8.03 0.66L8.41 0.53L8.59 0.28L8.59 -0.22L8.28 -0.53L5.97 -0.66L5.97 -11.66L8.91 -11.72L9.28 -11.84L9.53 -12.34L9.41 -12.72L8.91 -12.97L6.03 -12.97L5.97 -15.78L6.72 -17.28L7.41 -17.97L8.22 -17.91L7.59 -17.28L7.41 -16.78L7.53 -16.41L8.53 -15.41L8.91 -15.28L9.28 -15.41L10.28 -16.41L10.41 -16.78L10.34 -17.97Z"/>
</svg>
</body></html>
